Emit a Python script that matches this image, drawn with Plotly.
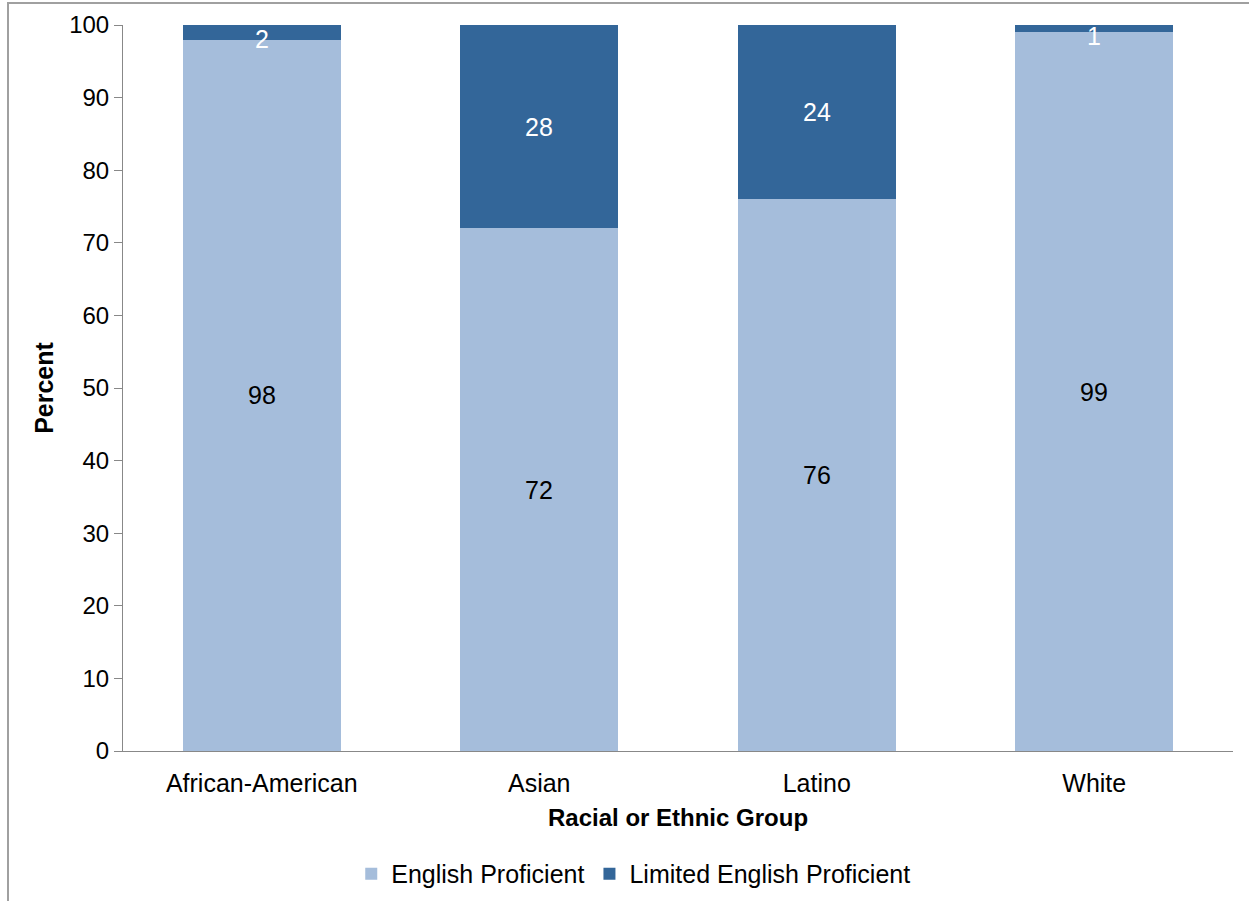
import plotly.graph_objects as go

groups = ["African-American", "Asian", "Latino", "White"]
english_proficient = [98, 72, 76, 99]
limited_english = [2, 28, 24, 1]

light = "#A5BDDB"
dark = "#336699"
font_family = "Liberation Sans, Arial, sans-serif"

fig = go.Figure()
fig.add_trace(go.Bar(x=groups, y=english_proficient, name="English Proficient",
                     marker=dict(color=light, line=dict(width=0))))
fig.add_trace(go.Bar(x=groups, y=limited_english, name="Limited English Proficient",
                     marker=dict(color=dark, line=dict(width=0))))

# value labels centred in each segment
annotations = []
for g, a, b in zip(groups, english_proficient, limited_english):
    annotations.append(dict(x=g, y=a / 2, text=str(a), showarrow=False,
                            font=dict(size=25, color="black", family=font_family)))
    annotations.append(dict(x=g, y=a + b / 2, text=str(b), showarrow=False,
                            yshift=-7 if b < 5 else 0,
                            font=dict(size=25, color="white", family=font_family)))

annotations.append(dict(x=0.5, y=-0.091, xref="paper", yref="paper",
                        text="<b>Racial or Ethnic Group</b>", showarrow=False,
                        yanchor="middle",
                        font=dict(size=24, color="black", family=font_family)))

fig.update_layout(
    width=1249, height=901,
    margin=dict(l=123, r=16, t=25, b=150, autoexpand=False),
    plot_bgcolor="white", paper_bgcolor="white",
    barmode="stack", bargap=0.43,
    font=dict(family=font_family, size=25, color="black"),
    showlegend=True,
    legend=dict(orientation="h", xref="container", yref="container",
                x=0.507, xanchor="center", y=0.03, yanchor="middle",
                font=dict(size=25, color="black"), traceorder="normal",
                itemwidth=30),
    annotations=annotations,
    shapes=[dict(type="rect", xref="paper", yref="paper",
                 x0=-0.1036, x1=1.2, y0=-0.4, y1=1.0303,
                 line=dict(color="#A0A0A0", width=2), fillcolor="rgba(0,0,0,0)")],
)
fig.update_xaxes(showline=True, linecolor="#888888", linewidth=1, ticks="",
                 tickfont=dict(size=25), showgrid=False, ticklabelstandoff=10,
                 automargin=False)
fig.update_yaxes(range=[0, 100], dtick=10, showline=True, linecolor="#888888",
                 linewidth=1, ticks="outside", ticklen=8, tickcolor="#888888",
                 showgrid=False, zeroline=False, tickfont=dict(size=24),
                 automargin=False,
                 title=dict(text="<b>Percent</b>", font=dict(size=25), standoff=8))

fig.write_html("out.html")
